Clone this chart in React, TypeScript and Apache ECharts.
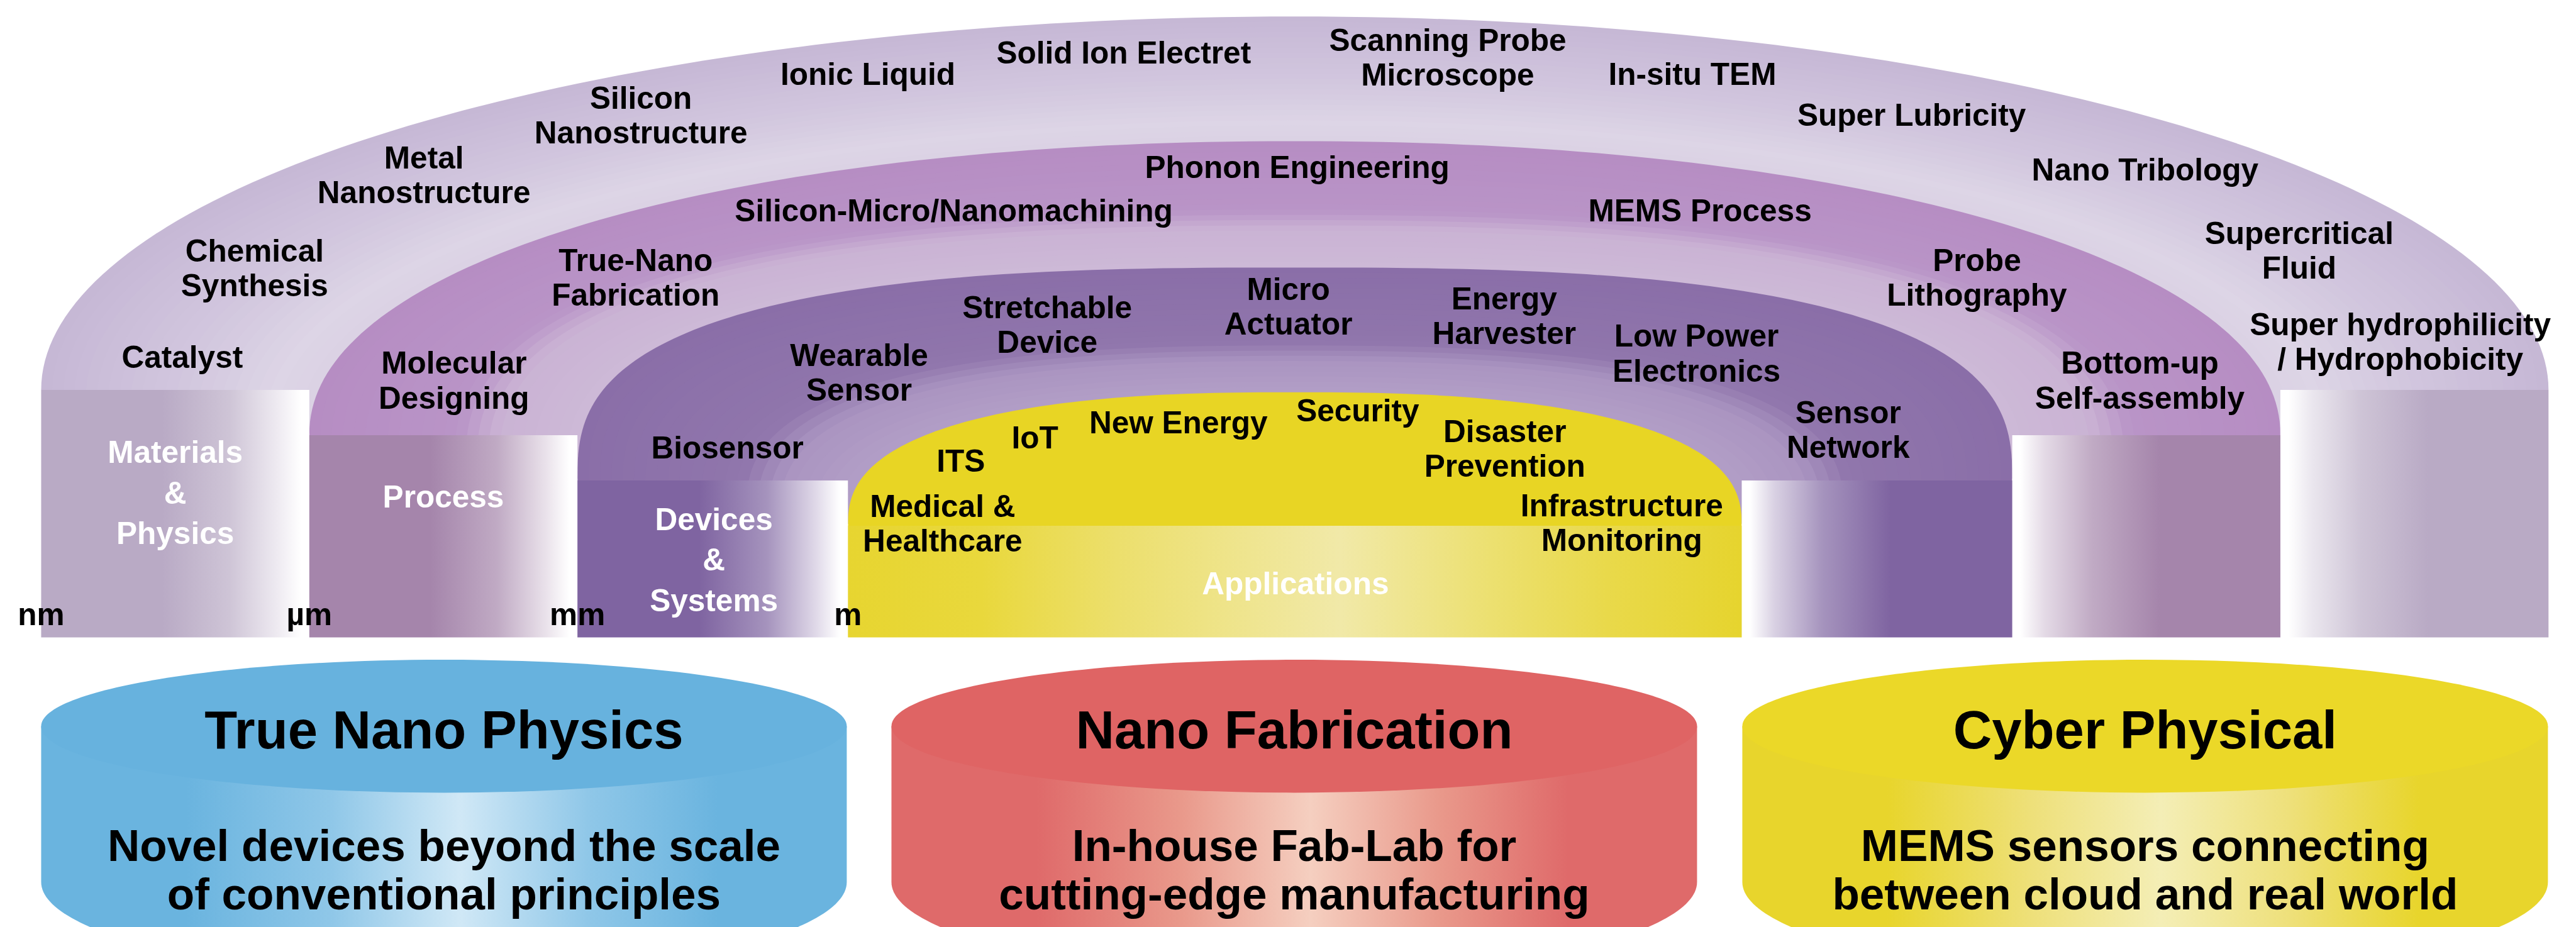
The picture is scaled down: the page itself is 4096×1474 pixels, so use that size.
import React, { useEffect, useRef } from "react";
import * as echarts from "echarts";

// ---------- data ----------
const layerNames = ["Materials\n&\nPhysics", "Process", "Devices\n&\nSystems", "Applications"];
const scaleUnits = ["nm", "µm", "mm", "m"];
const materialsTopics = [
  "Catalyst", "Chemical\nSynthesis", "Metal\nNanostructure", "Silicon\nNanostructure", "Ionic Liquid",
  "Solid Ion Electret", "Scanning Probe\nMicroscope", "In-situ TEM", "Super Lubricity", "Nano Tribology",
  "Supercritical\nFluid", "Super hydrophilicity\n/ Hydrophobicity",
];
const processTopics = [
  "Molecular\nDesigning", "True-Nano\nFabrication", "Silicon-Micro/Nanomachining", "Phonon Engineering",
  "MEMS Process", "Probe\nLithography", "Bottom-up\nSelf-assembly",
];
const deviceTopics = [
  "Biosensor", "Wearable\nSensor", "Stretchable\nDevice", "Micro\nActuator", "Energy\nHarvester",
  "Low Power\nElectronics", "Sensor\nNetwork",
];
const applicationTopics = [
  "ITS", "IoT", "New Energy", "Security", "Disaster\nPrevention", "Medical &\nHealthcare", "Infrastructure\nMonitoring",
];
const pillarTitles = ["True Nano Physics", "Nano Fabrication", "Cyber Physical"];
const pillarNotes = [
  "Novel devices beyond the scale\nof conventional principles",
  "In-house Fab-Lab for\ncutting-edge manufacturing",
  "MEMS sensors connecting\nbetween cloud and real world",
];

// ---------- layout (reference pixels, scaled by K) ----------
const K = 0.935;
const W = 4096;
const H = 1474;
const CX = 2202;
const BOTTOM = 1084;
const archSpec = [
  { a: 2132, top: 28, s: 663, n: 2.0 },
  { a: 1676, top: 240, s: 740, n: 2.1 },
  { a: 1220, top: 455, s: 817, n: 2.75 },
  { a: 760, top: 667, s: 894, n: 2.5 },
];
const materialsPos = [[310, 608], [433, 456], [721, 298], [1090, 196], [1476, 126], [1911, 90], [2462, 98], [2878, 126], [3251, 196], [3648, 289], [3910, 426], [4082, 581]];
const processPos = [[772, 647], [1081, 472], [1622, 358], [2206, 285], [2891, 358], [3362, 472], [3639, 647]];
const devicePos = [[1237, 761], [1461, 634], [1781, 552], [2191, 521], [2558, 537], [2885, 601], [3143, 731]];
const appPos = [[1634, 784], [1760, 744], [2004, 719], [2309, 698], [2559, 763], [1603, 890], [2758, 889]];
const layerNamePos = [[298, 838], [754, 845], [1214, 952], [2203, 993]];
const unitX = [70, 526, 982, 1442];
const cylCenters = [755, 2201, 3648];

// ---------- styles ----------
const bandStops: [number, string][][] = [
  [[0, "#c6b7d5"], [0.5, "#d1c6de"], [0.85, "#ddd5e6"], [1, "#dbd2e4"]],
  [[0, "#b68dc3"], [0.55, "#b994c7"], [0.7, "#cab3d4"], [1, "#cdb9d7"]],
  [[0, "#8a6ea8"], [0.6, "#9076ac"], [0.75, "#aa94c1"], [1, "#b29ec6"]],
];
const pillarColors = ["#b9aac5", "#a585ab", "#7f64a1"];
const yellowCap = "#e8d524";
const cylStyles = [
  { face: "#67b2de", edge: "#6ab4df", mid: "#8fc7e8", light: "#d0e8f6" },
  { face: "#df6464", edge: "#df6a6a", mid: "#e9998b", light: "#f5cfc0" },
  { face: "#ebd828", edge: "#e8d52c", mid: "#eee07a", light: "#f4eeb6" },
];
const FONT = '"Liberation Sans", Arial, Helvetica, sans-serif';

function hexToRgb(h: string) {
  const v = parseInt(h.slice(1), 16);
  return [(v >> 16) & 255, (v >> 8) & 255, v & 255];
}
function mix(c1: string, c2: string, t: number) {
  const a = hexToRgb(c1), b = hexToRgb(c2);
  const r = a.map((v, i) => Math.round(v + (b[i] - v) * t));
  return `rgb(${r[0]},${r[1]},${r[2]})`;
}
function colorAt(stops: [number, string][], t: number) {
  for (let i = 0; i < stops.length - 1; i++) {
    const [t0, c0] = stops[i];
    const [t1, c1] = stops[i + 1];
    if (t <= t1) return mix(c0, c1, (t - t0) / (t1 - t0 || 1));
  }
  return stops[stops.length - 1][1];
}
function capPoints(a: number, top: number, s: number, n: number, count = 160) {
  const pts: number[][] = [];
  const e = 2 / n;
  for (let i = 0; i <= count; i++) {
    const th = Math.PI - (Math.PI * i) / count;
    const c = Math.cos(th);
    const sn = Math.sin(th);
    const x = CX + a * Math.sign(c) * Math.pow(Math.abs(c), e);
    const y = s - (s - top) * Math.pow(Math.abs(sn), e);
    pts.push([x * K, y * K]);
  }
  return pts;
}
function lin(stops: [number, string][]) {
  return new echarts.graphic.LinearGradient(0, 0, 1, 0, stops.map(([offset, color]) => ({ offset, color })));
}

function buildOption() {
  const els: any[] = [];
  let z = 1;
  const push = (el: any) => { el.z = z++; els.push(el); };

  // arch bands (stepped gradient)
  const STEPS = 24;
  for (let k = 0; k < 3; k++) {
    const A = archSpec[k], B = archSpec[k + 1];
    for (let j = 0; j < STEPS; j++) {
      const t = j / STEPS;
      const a = A.a + (B.a - A.a) * t;
      const top = A.top + (B.top - A.top) * t;
      const s = A.s + (B.s - A.s) * t;
      const n = A.n + (B.n - A.n) * t;
      push({
        type: "polygon",
        shape: { points: capPoints(a, top, s, n) },
        style: { fill: colorAt(bandStops[k], t + 0.5 / STEPS), stroke: null },
      });
    }
  }
  // yellow cap
  const Y = archSpec[3];
  push({ type: "polygon", shape: { points: capPoints(Y.a, Y.top, Y.s, Y.n) }, style: { fill: yellowCap } });

  // pillars
  for (let k = 0; k < 3; k++) {
    const A = archSpec[k], B = archSpec[k + 1];
    const w = A.a - B.a;
    const c = pillarColors[k];
    const leftStops: [number, string][] = [[0, c], [0.45, c], [0.7, mix(c, "#ffffff", 0.3)], [0.88, mix(c, "#ffffff", 0.75)], [0.97, "#ffffff"], [1, "#ffffff"]];
    const rightStops: [number, string][] = [[0, "#ffffff"], [0.03, "#ffffff"], [0.12, mix(c, "#ffffff", 0.7)], [0.3, mix(c, "#ffffff", 0.3)], [0.55, c], [1, c]];
    push({
      type: "rect",
      shape: { x: (CX - A.a) * K, y: A.s * K, width: w * K, height: (BOTTOM - A.s) * K },
      style: { fill: lin(leftStops) },
    });
    push({
      type: "rect",
      shape: { x: (CX + B.a) * K, y: A.s * K, width: w * K, height: (BOTTOM - A.s) * K },
      style: { fill: lin(rightStops) },
    });
  }
  // yellow lower block
  push({
    type: "rect",
    shape: { x: (CX - Y.a) * K, y: Y.s * K, width: 2 * Y.a * K, height: (BOTTOM - Y.s) * K },
    style: {
      fill: lin([[0, "#e7d530"], [0.15, "#e9d83c"], [0.3, "#ecdf6c"], [0.55, "#f1e9a8"], [0.72, "#ece070"], [0.85, "#e9d94a"], [1, "#e6d42e"]]),
    },
  });

  // cylinders
  const CA = 685, faceCY = 1235, faceB = 113, botCY = 1500, botB = 160;
  cylCenters.forEach((cx, i) => {
    const st = cylStyles[i];
    const body: number[][] = [];
    body.push([(cx - CA) * K, faceCY * K]);
    for (let j = 0; j <= 120; j++) {
      const th = Math.PI - (Math.PI * j) / 120;
      body.push([(cx + CA * Math.cos(th)) * K, (botCY + botB * Math.sin(th)) * K]);
    }
    body.push([(cx + CA) * K, faceCY * K]);
    push({
      type: "polygon",
      shape: { points: body },
      style: {
        fill: lin([[0, st.edge], [0.18, st.edge], [0.36, st.mid], [0.52, st.light], [0.68, st.mid], [0.84, st.edge], [1, st.edge]]),
      },
    });
    push({
      type: "ellipse",
      shape: { cx: cx * K, cy: faceCY * K, rx: CA * K, ry: faceB * K },
      style: { fill: st.face },
    });
  });

  // texts
  const text = (t: string, x: number, y: number, size: number, color = "#000", lh = 59) => {
    push({
      type: "text",
      x: x * K,
      y: y * K,
      style: {
        text: t,
        fill: color,
        fontSize: size * K,
        fontWeight: "bold",
        fontFamily: FONT,
        align: "center",
        verticalAlign: "middle",
        textAlign: "center",
        textVerticalAlign: "middle",
        lineHeight: lh * K,
      },
    });
  };
  materialsTopics.forEach((t, i) => text(t, materialsPos[i][0], materialsPos[i][1], 53));
  processTopics.forEach((t, i) => text(t, processPos[i][0], processPos[i][1], 53));
  deviceTopics.forEach((t, i) => text(t, devicePos[i][0], devicePos[i][1], 53));
  applicationTopics.forEach((t, i) => text(t, appPos[i][0], appPos[i][1], 53));
  layerNames.forEach((t, i) => text(t, layerNamePos[i][0], layerNamePos[i][1], 53, "#ffffff", 69));
  scaleUnits.forEach((t, i) => text(t, unitX[i], 1045, 53));
  pillarTitles.forEach((t, i) => text(t, cylCenters[i], 1241, 91));
  pillarNotes.forEach((t, i) => text(t, cylCenters[i], 1479, 76, "#000", 83));

  return {
    animation: false,
    backgroundColor: "#ffffff",
    graphic: { elements: els },
  };
}

export default function App() {
  const ref = useRef<HTMLDivElement>(null);
  useEffect(() => {
    const chart = echarts.init(ref.current!, null, { renderer: "svg", width: W, height: H });
    chart.setOption(buildOption() as any);
    return () => chart.dispose();
  }, []);
  return (
    <div
      ref={ref}
      style={{ position: "fixed", left: 0, top: 0, width: W, height: H, background: "#fff" }}
    />
  );
}
